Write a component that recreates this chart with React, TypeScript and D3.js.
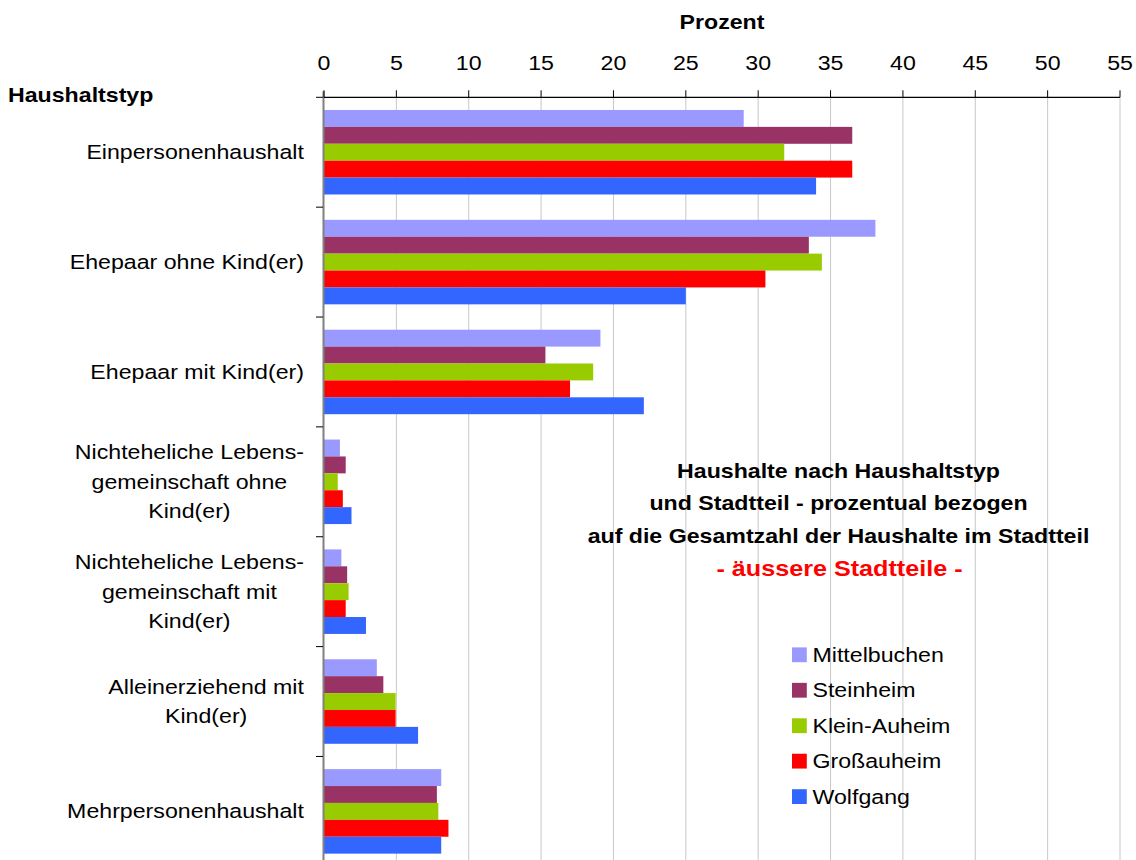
import React from "react";
import * as d3 from "d3";

const categories: string[] = [
  "Einpersonenhaushalt",
  "Ehepaar ohne Kind(er)",
  "Ehepaar mit Kind(er)",
  "Nichteheliche Lebens-\ngemeinschaft ohne\nKind(er)",
  "Nichteheliche Lebens-\ngemeinschaft mit\nKind(er)",
  "Alleinerziehend mit\nKind(er)",
  "Mehrpersonenhaushalt",
];

const seriesNames: string[] = ["Mittelbuchen", "Steinheim", "Klein-Auheim", "Großauheim", "Wolfgang"];
const seriesColors: string[] = ["#9999FF", "#993366", "#99CC00", "#FF0000", "#3366FF"];

const mittelbuchen: number[] = [29.0, 38.1, 19.1, 1.1, 1.2, 3.65, 8.1];
const steinheim: number[] = [36.5, 33.5, 15.3, 1.5, 1.6, 4.1, 7.8];
const kleinAuheim: number[] = [31.8, 34.4, 18.6, 0.95, 1.7, 4.95, 7.9];
const grossauheim: number[] = [36.5, 30.5, 17.0, 1.3, 1.5, 4.95, 8.6];
const wolfgang: number[] = [34.0, 25.0, 22.1, 1.9, 2.9, 6.5, 8.1];

const seriesValues: number[][] = [mittelbuchen, steinheim, kleinAuheim, grossauheim, wolfgang];

const xTicks: number[] = [0, 5, 10, 15, 20, 25, 30, 35, 40, 45, 50, 55];

const titleLines: string[] = [
  "Haushalte nach Haushaltstyp",
  "und Stadtteil - prozentual bezogen",
  "auf die Gesamtzahl der Haushalte im Stadtteil",
];
const subtitle = "- äussere Stadtteile -";
const xAxisTitle = "Prozent";
const yAxisTitle = "Haushaltstyp";

const FONT = "'Liberation Sans', Arial, Helvetica, sans-serif";
const FS = 20.5;
const SX = 1.13;

let ctx: CanvasRenderingContext2D | null = null;
function measure(text: string, weight = "normal", size = FS): number {
  if (!ctx) {
    const c = document.createElement("canvas");
    ctx = c.getContext("2d");
  }
  if (!ctx) return text.length * size * 0.55 * SX;
  ctx.font = `${weight} ${size}px ${FONT}`;
  return ctx.measureText(text).width * SX;
}

function T(props: {
  x: number;
  y: number;
  anchor?: "start" | "middle" | "end";
  weight?: string;
  fill?: string;
  size?: number;
  children: React.ReactNode;
}) {
  const { x, y, anchor = "start", weight = "normal", fill = "#000", size = FS, children } = props;
  return (
    <text
      transform={`translate(${x},${y}) scale(${SX},1)`}
      textAnchor={anchor}
      fontFamily={FONT}
      fontSize={size}
      fontWeight={weight}
      fill={fill}
    >
      {children}
    </text>
  );
}

export default function App() {
  const W = 1136;
  const H = 860;
  const top = 97.3;
  const band = 109.86;

  const x = d3.scaleLinear().domain([0, 55]).range([324, 1120]);
  const y = d3
    .scaleBand<string>()
    .domain(categories)
    .range([top, top + band * categories.length])
    .padding(0);
  const bw = y.bandwidth();
  const inner = d3
    .scaleBand<string>()
    .domain(seriesNames)
    .range([0, bw])
    .paddingInner(0)
    .paddingOuter(0.75);

  const labelRight = 304;
  const lineH = 29.5;

  return (
    <div style={{ position: "absolute", left: 0, top: 0 }}>
      <svg width={W} height={H} style={{ display: "block", background: "#fff" }}>
        <rect x={0} y={0} width={W} height={H} fill="#fff" />
        {/* gridlines */}
        {xTicks
          .filter((t) => t > 0)
          .map((t) => (
            <line key={"g" + t} x1={x(t)} x2={x(t)} y1={top} y2={H} stroke="#C8C8C8" strokeWidth={1} />
          ))}
        {/* bars */}
        {categories.map((c, ci) => (
          <g key={"c" + ci}>
            {seriesNames.map((s, si) => (
              <rect
                key={s}
                x={x(0)}
                y={(y(c) as number) + (inner(s) as number)}
                width={x(seriesValues[si][ci]) - x(0)}
                height={inner.bandwidth()}
                fill={seriesColors[si]}
              />
            ))}
          </g>
        ))}
        {/* left axis */}
        <line x1={323.5} x2={323.5} y1={top - 6} y2={H} stroke="#808080" strokeWidth={2} />
        {d3.range(categories.length + 1).map((k) => (
          <line key={"lt" + k} x1={316} x2={323} y1={top + k * bw} y2={top + k * bw} stroke="#000" strokeWidth={1} />
        ))}
        {/* top axis */}
        <line x1={x(0)} x2={x(55)} y1={top} y2={top} stroke="#000" strokeWidth={1.2} />
        {xTicks.map((t) => (
          <g key={"t" + t}>
            <line x1={x(t)} x2={x(t)} y1={top - 7} y2={top} stroke="#000" strokeWidth={1} />
            <T x={x(t)} y={70} anchor="middle">
              {String(t)}
            </T>
          </g>
        ))}
        <T x={722} y={29} anchor="middle" weight="bold">
          {xAxisTitle}
        </T>
        <T x={8} y={101.5} weight="bold">
          {yAxisTitle}
        </T>
        {/* category labels */}
        {categories.map((c, ci) => {
          const lines = c.split("\n");
          const maxW = Math.max(...lines.map((l) => measure(l)));
          const cx = labelRight - maxW / 2;
          const cy = (y(c) as number) + bw / 2;
          return (
            <g key={"l" + ci}>
              {lines.map((l, li) => (
                <T key={li} x={cx} y={cy + 7 + (li - (lines.length - 1) / 2) * lineH} anchor="middle">
                  {l}
                </T>
              ))}
            </g>
          );
        })}
        {/* title */}
        {titleLines.map((l, i) => (
          <T key={"tt" + i} x={838.5} y={477.5 + i * 32.6} anchor="middle" weight="bold">
            {l}
          </T>
        ))}
        <T x={839.5} y={576} anchor="middle" weight="bold" fill="#FF0000" size={FS * 1.087}>
          {subtitle}
        </T>
        {/* legend */}
        {seriesNames.map((s, i) => {
          const cy = 654.7 + i * 35.45;
          return (
            <g key={"lg" + s}>
              <rect x={792} y={cy - 7.3} width={14.8} height={14.8} fill={seriesColors[i]} />
              <T x={812.5} y={cy + 7}>
                {s}
              </T>
            </g>
          );
        })}
      </svg>
    </div>
  );
}
